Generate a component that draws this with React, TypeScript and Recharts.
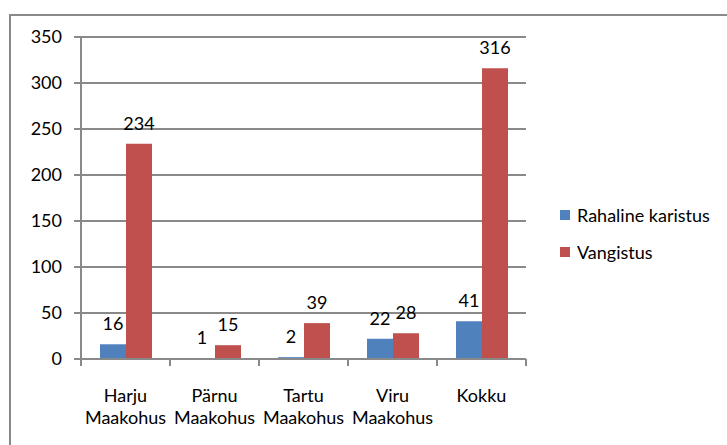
import { BarChart, Bar, XAxis, YAxis, CartesianGrid, LabelList } from 'recharts'

const kohtud = ['Harju Maakohus', 'Pärnu Maakohus', 'Tartu Maakohus', 'Viru Maakohus', 'Kokku']
const rahaline = [16, 1, 2, 22, 41]
const vangistus = [234, 15, 39, 28, 316]
const yTicks = [0, 50, 100, 150, 200, 250, 300, 350]
const seeriad = ['Rahaline karistus', 'Vangistus']

const SININE = '#4F81BD'
const PUNANE = '#C0504D'
const HALL = '#898989'
const FONT = 'Lato, "DejaVu Sans", sans-serif'
const SUURUS = 18
const LAIUS = 727
const KORGUS = 445
const X_KORGUS = 86
const AKSI_Y = KORGUS - X_KORGUS

const andmed = kohtud.map((k, i) => ({ kohus: k, rahaline: rahaline[i], vangistus: vangistus[i] }))

// kahe reaga silt + kriipsud kategooriate piiridel
function KohusTick({ x, y, payload, index }: any) {
  const read = String(payload.value).split(' ')
  const pool = payload.offset || 44.5
  const viimane = index === kohtud.length - 1
  return (
    <g>
      <line x1={x - pool} x2={x - pool} y1={AKSI_Y} y2={AKSI_Y + 7} stroke={HALL} strokeWidth={2} />
      {viimane && <line x1={x + pool} x2={x + pool} y1={AKSI_Y} y2={AKSI_Y + 7} stroke={HALL} strokeWidth={2} />}
      <text x={x} y={y} textAnchor="middle" fontSize={SUURUS} fontFamily={FONT} fill="#000">
        {read.map((r, i) => (
          <tspan key={i} x={x} dy={i === 0 ? 35 : 22}>{r}</tspan>
        ))}
      </text>
    </g>
  )
}

export default function App() {
  const varvid = [SININE, PUNANE]
  return (
    <div style={{ position: 'relative', width: LAIUS, height: KORGUS, background: '#fff', overflow: 'hidden' }}>
      <style>{'body{margin:0}'}</style>
      {/* raam */}
      <div style={{ position: 'absolute', left: 9, top: 14, right: -10, bottom: -10, borderTop: `2px solid ${HALL}`, borderLeft: `2px solid ${HALL}` }} />
      <div style={{ position: 'absolute', left: 0, top: 0 }}>
        <BarChart
          width={LAIUS}
          height={KORGUS}
          data={andmed}
          margin={{ top: 37, right: 201, bottom: 0, left: 0 }}
          barGap={0}
          barCategoryGap={19}
        >
          <CartesianGrid vertical={false} stroke={HALL} strokeWidth={2} />
          <YAxis
            domain={[0, 350]}
            ticks={yTicks}
            width={81}
            tickSize={7}
            tickMargin={12}
            axisLine={{ stroke: HALL, strokeWidth: 2 }}
            tickLine={{ stroke: HALL, strokeWidth: 2 }}
            tick={{ fontSize: SUURUS, fontFamily: FONT, fill: '#000' }}
            interval={0}
          />
          <XAxis
            dataKey="kohus"
            tick={<KohusTick />}
            tickLine={false}
            axisLine={{ stroke: HALL, strokeWidth: 2 }}
            interval={0}
            height={X_KORGUS}
          />
          <Bar dataKey="rahaline" name={seeriad[0]} fill={SININE} isAnimationActive={false}>
            <LabelList dataKey="rahaline" position="top" offset={14} fill="#000" fontSize={SUURUS} fontFamily={FONT} />
          </Bar>
          <Bar dataKey="vangistus" name={seeriad[1]} fill={PUNANE} isAnimationActive={false}>
            <LabelList dataKey="vangistus" position="top" offset={14} fill="#000" fontSize={SUURUS} fontFamily={FONT} />
          </Bar>
        </BarChart>
      </div>
      {/* legend */}
      <div style={{ position: 'absolute', left: 560, top: 196, fontFamily: FONT, fontSize: SUURUS }}>
        {seeriad.map((s, i) => (
          <div key={s} style={{ display: 'flex', alignItems: 'center', height: 37 }}>
            <span style={{ width: 10, height: 10, background: varvid[i], marginRight: 7 }} />
            <span>{s}</span>
          </div>
        ))}
      </div>
    </div>
  )
}
